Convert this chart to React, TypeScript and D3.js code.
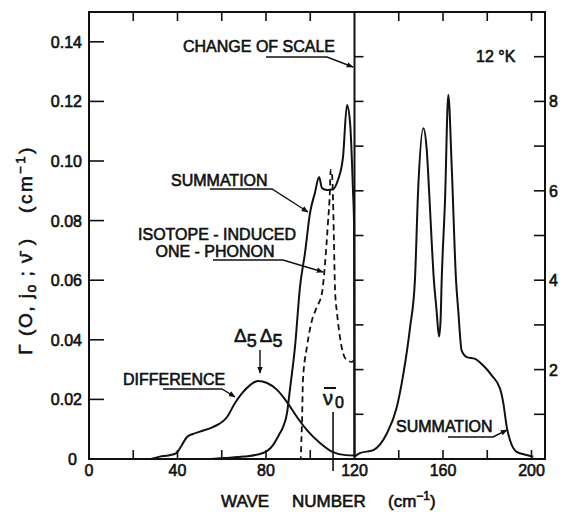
import React from 'react';
import * as d3 from 'd3';

// ---------- data ----------
// Difference curve (left scale, cm^-1)
const differenceWave = [28, 32, 36, 39.5, 42, 44.3, 47, 50.2, 56, 62.4, 66, 69.2, 72.8, 76.4, 80.5, 85, 89.5, 94, 98.5, 104.4, 110.3, 116, 120];
const differenceGamma = [0, 0.0008, 0.0012, 0.002, 0.0047, 0.0074, 0.0084, 0.0092, 0.0107, 0.0141, 0.0188, 0.0221, 0.0248, 0.0262, 0.0255, 0.0232, 0.0191, 0.0141, 0.0097, 0.0054, 0.0023, 0.0013, 0.0012];

// Summation curve, left part (left scale)
const sumLeftWave = [55, 60.6, 70, 78.6, 83, 86.3, 87.7, 89.5, 90.8, 93.1, 95.4, 97.6, 99.9, 102.1, 104, 105.3, 107.6, 110.3, 112.5, 114.8, 116.6, 118, 119.3, 119.8, 120];
const sumLeftGamma = [0, 0.0003, 0.0008, 0.002, 0.0045, 0.0087, 0.0107, 0.0154, 0.0232, 0.0376, 0.058, 0.069, 0.0826, 0.0893, 0.0946, 0.0909, 0.0903, 0.0905, 0.0936, 0.1013, 0.1188, 0.1128, 0.0903, 0.0785, 0.001];

// Isotope-induced one-phonon (dashed, left scale)
const isoWave = [40, 95.7, 96, 96.3, 96.7, 98.5, 100.8, 103, 105.3, 106.7, 108, 108.9, 109.2, 109.8, 110.3, 110.7, 111.2, 112.1, 113.4, 114.8, 116.6, 118.9, 120];
const isoGamma = [0, 0, 0.0064, 0.0131, 0.0265, 0.0376, 0.0466, 0.051, 0.0557, 0.0658, 0.0792, 0.0903, 0.097, 0.096, 0.0869, 0.0735, 0.0567, 0.049, 0.041, 0.0356, 0.0332, 0.0326, 0.0335];

// Summation curve, right part (right scale, after change of scale)
const sumRightWave = [120, 122.4, 128.5, 134.6, 139.1, 142.1, 145.1, 147.3, 148.8, 151.1, 152.6, 153.4, 154.1, 155.9, 157.1, 158.2, 158.9, 159.4, 160.9, 162.4, 163.9, 165.9, 166.9, 168.4, 170.7, 174.5, 178.2, 182, 185.8, 187.3, 188.8, 190.3, 193.3, 197.8, 200.8];
const sumRightGamma = [0.05, 0.13, 0.2, 0.57, 1.16, 1.91, 2.94, 3.99, 6.06, 7.4, 6.95, 6.29, 5.62, 3.99, 3.32, 2.74, 3.1, 3.99, 5.77, 8.15, 6.59, 3.99, 3.32, 2.43, 2.28, 2.24, 2.09, 1.87, 1.57, 1.24, 0.72, 0.42, 0.16, 0.09, 0.05];

// Ticks
const xMinorTicks = [20, 40, 60, 80, 100, 140, 160, 180, 200];
const xTickLabels = [0, 40, 80, 120, 160, 200];
const leftTicks = [0, 0.02, 0.04, 0.06, 0.08, 0.1, 0.12, 0.14];
const leftTickLabels = ['0', '0.02', '0.04', '0.06', '0.08', '0.10', '0.12', '0.14'];
const rightTicks = [1, 2, 3, 4, 5, 6, 7, 8, 9];
const rightTickLabels = [2, 4, 6, 8];
const changeOfScaleAt = 120;
const nuZero = 110.3;

const FONT = 'Liberation Sans, Arial, sans-serif';

export default function App() {
  const x = d3.scaleLinear().domain([0, 206.1]).range([89, 545]);
  const yL = d3.scaleLinear().domain([0, 0.15]).range([459, 12]);
  const yR = d3.scaleLinear().domain([0, 10]).range([459, 12]);

  const lineL = d3.line<[number, number]>().x(d => x(d[0])).y(d => yL(d[1])).curve(d3.curveMonotoneX);
  const lineR = d3.line<[number, number]>().x(d => x(d[0])).y(d => yR(d[1])).curve(d3.curveMonotoneX);

  const zip = (a: number[], b: number[]) => a.map((v, i) => [v, b[i]] as [number, number]);

  const left = x(0), right = x(206.1), top = yL(0.15), bottom = yL(0);
  const div = x(changeOfScaleAt);
  const ink = '#111';
  const txt = { fontFamily: FONT, fontSize: 16, fill: ink, stroke: ink, strokeWidth: 0.6 } as any;

  return (
    <svg width={563} height={512} style={{ position: 'absolute', left: 0, top: 0, background: '#fff' }}>
      <defs>
        <marker id="arr" viewBox="0 0 10 10" refX="9" refY="5" markerWidth="7" markerHeight="7" orient="auto-start-reverse" markerUnits="userSpaceOnUse">
          <path d="M0,1 L10,5 L0,9 z" fill={ink} />
        </marker>
      </defs>

      {/* frame */}
      <rect x={left} y={top} width={right - left} height={bottom - top} fill="none" stroke={ink} strokeWidth={2} />
      <line x1={div} x2={div} y1={top} y2={bottom} stroke={ink} strokeWidth={2} />

      {/* x ticks */}
      {xMinorTicks.map(t => (
        <g key={'xt' + t}>
          <line x1={x(t)} x2={x(t)} y1={bottom} y2={bottom - 9} stroke={ink} strokeWidth={1.6} />
          <line x1={x(t)} x2={x(t)} y1={top} y2={top + 9} stroke={ink} strokeWidth={1.6} />
        </g>
      ))}
      {xTickLabels.map(t => (
        <text key={'xl' + t} x={x(t)} y={476} textAnchor="middle" {...txt}>{t}</text>
      ))}

      {/* left ticks */}
      {leftTicks.map((t, i) => (
        <g key={'lt' + t}>
          <line x1={left} x2={left + 15} y1={yL(t)} y2={yL(t)} stroke={ink} strokeWidth={1.6} />
          <text x={i === 0 ? left - 12 : left - 7} y={yL(t) + 6} textAnchor="end" {...txt}>{leftTickLabels[i]}</text>
        </g>
      ))}

      {/* right ticks (frame and change-of-scale line) */}
      {rightTicks.map(t => (
        <g key={'rt' + t}>
          <line x1={right} x2={right - 11} y1={yR(t)} y2={yR(t)} stroke={ink} strokeWidth={1.6} />
          <line x1={div} x2={div + 9} y1={yR(t)} y2={yR(t)} stroke={ink} strokeWidth={1.6} />
        </g>
      ))}
      {rightTickLabels.map(t => (
        <text key={'rl' + t} x={right + 4} y={yR(t) + 6} {...txt}>{t}</text>
      ))}

      {/* curves */}
      <path d={lineL(zip(differenceWave, differenceGamma)) || ''} fill="none" stroke={ink} strokeWidth={2} strokeLinejoin="round" />
      <path d={lineL(zip(sumLeftWave, sumLeftGamma)) || ''} fill="none" stroke={ink} strokeWidth={2} strokeLinejoin="round" />
      <path d={lineL(zip(isoWave, isoGamma)) || ''} fill="none" stroke={ink} strokeWidth={1.8} strokeDasharray="6,4" strokeLinejoin="round" />
      <path d={lineR(zip(sumRightWave, sumRightGamma)) || ''} fill="none" stroke={ink} strokeWidth={2} strokeLinejoin="round" />

      {/* nu_0 marker */}
      <line x1={x(nuZero)} x2={x(nuZero)} y1={412} y2={471} stroke={ink} strokeWidth={1.6} />
      <text x={323} y={405} {...txt} fontSize={20}>ν</text>
      <line x1={324} x2={336} y1={388} y2={388} stroke={ink} strokeWidth={2} />
      <text x={335} y={408} {...txt} fontSize={16}>0</text>

      {/* annotations */}
      <text x={183} y={52} {...txt}>CHANGE OF SCALE</text>
      <path d="M266,57 H327 L353,67" fill="none" stroke={ink} strokeWidth={1.4} markerEnd="url(#arr)" />

      <text x={476} y={62} {...txt}>12 °K</text>

      <text x={171} y={186} {...txt}>SUMMATION</text>
      <path d="M210,189 H272 L308,212" fill="none" stroke={ink} strokeWidth={1.4} markerEnd="url(#arr)" />

      <text x={217} y={240} textAnchor="middle" {...txt}>ISOTOPE - INDUCED</text>
      <text x={215} y={257} textAnchor="middle" {...txt}>ONE - PHONON</text>
      <path d="M213,260 H283 L323,272" fill="none" stroke={ink} strokeWidth={1.4} markerEnd="url(#arr)" />

      <text x={234} y={342} {...txt} fontSize={19}>
        <tspan>Δ</tspan><tspan dy={5} fontSize={18}>5</tspan><tspan dy={-5} dx={3}>Δ</tspan><tspan dy={5} fontSize={18}>5</tspan>
      </text>
      <path d="M260,350 V373" fill="none" stroke={ink} strokeWidth={1.4} markerEnd="url(#arr)" />

      <text x={123} y={385} {...txt}>DIFFERENCE</text>
      <path d="M163,389 H222 L235,397" fill="none" stroke={ink} strokeWidth={1.4} markerEnd="url(#arr)" />

      <text x={396} y={432} {...txt}>SUMMATION</text>
      <path d="M448,437 H493 L507,430" fill="none" stroke={ink} strokeWidth={1.4} markerEnd="url(#arr)" />

      {/* axis titles */}
      <text x={221} y={507} {...txt} fontSize={17}>WAVE</text>
      <text x={292} y={507} {...txt} fontSize={17}>NUMBER</text>
      <text x={388} y={507} {...txt} fontSize={17}>
        (cm<tspan dy={-7} fontSize={12}>−1</tspan><tspan dy={7}>)</tspan>
      </text>

      <g transform="translate(32,296) rotate(-90)">
        <text x={0} y={0} textAnchor="middle" {...txt} fontSize={19} letterSpacing={1.5}>
          Γ (O, j<tspan dy={4} fontSize={14}>o</tspan><tspan dy={-4}> ; ν̄ )</tspan>
        </text>
      </g>
      <g transform="translate(32,179) rotate(-90)">
        <text x={0} y={0} textAnchor="middle" {...txt} fontSize={19} letterSpacing={2.5}>
          (cm<tspan dy={-7} fontSize={13}>−1</tspan><tspan dy={7}>)</tspan>
        </text>
      </g>
    </svg>
  );
}
